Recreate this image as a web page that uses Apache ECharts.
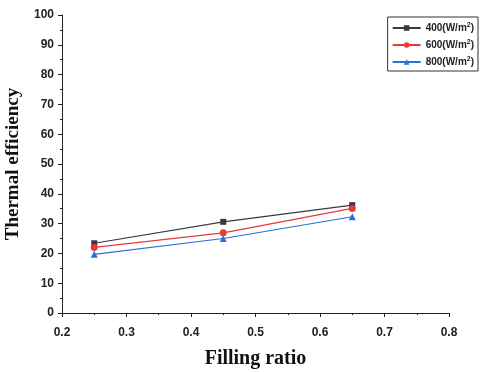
<!DOCTYPE html>
<html><head><meta charset="utf-8">
<script src="https://cdn.jsdelivr.net/npm/echarts@6/dist/echarts.min.js"></script>
<style>html,body{margin:0;padding:0;background:#fff}#c{width:480px;height:372px}</style>
</head><body><div id="c"></div>
<script>
const fillingRatio = [0.25, 0.45, 0.65];
const eff400 = [23.4, 30.6, 36.2];
const eff600 = [22.0, 26.9, 35.1];
const eff800 = [19.7, 25.0, 32.3];
const seriesNames = ['400', '600', '800'];

const chart = echarts.init(document.getElementById('c'));
const mk = (name, data, color, symbol, size) => ({
  name: name, type: 'line', data: fillingRatio.map((x, i) => [x, data[i]]),
  symbol: symbol, symbolSize: size,
  lineStyle: {color: color, width: 1.2}, itemStyle: {color: color}
});
chart.setOption({
  animation: false,
  grid: {left: 62, right: 31, top: 15, bottom: 59, containLabel: false, outerBoundsMode: 'none'},
  legend: {
    right: 2, top: 17, orient: 'vertical',
    borderColor: '#333', borderWidth: 1, padding: [5, 4, 4, 4],
    itemWidth: 28, itemHeight: 7, itemGap: 6,
    textStyle: {fontFamily: 'Liberation Sans', fontWeight: 'bold', fontSize: 10, color: '#222',
      rich: {sup: {fontSize: 7, fontWeight: 'bold', verticalAlign: 'top', padding: [0,0,5,0], fontFamily: 'Liberation Sans'}}},
    formatter: n => n + '(W/m{sup|2})'
  },
  xAxis: {
    type: 'value', min: 0.2, max: 0.8, interval: 0.1,
    name: 'Filling ratio', nameLocation: 'middle', nameGap: 36,
    nameTextStyle: {fontFamily: 'Liberation Serif', fontWeight: 'bold', fontSize: 20, color: '#111'},
    axisLine: {lineStyle: {color: '#222', width: 1}},
    axisTick: {inside: false, length: 4, lineStyle: {color: '#222'}},
    minorTick: {show: true, splitNumber: 2, length: 2, lineStyle: {color: '#222'}},
    splitLine: {show: false},
    axisLabel: {fontFamily: 'Liberation Sans', fontWeight: 'bold', fontSize: 12, color: '#222', margin: 14,
      formatter: v => v.toFixed(1)}
  },
  yAxis: {
    type: 'value', min: 0, max: 100, interval: 10,
    name: 'Thermal efficiency', nameLocation: 'middle', nameGap: 38,
    nameTextStyle: {fontFamily: 'Liberation Serif', fontWeight: 'bold', fontSize: 19, color: '#111'},
    axisLine: {show: true, lineStyle: {color: '#222', width: 1}},
    axisTick: {inside: false, length: 4, lineStyle: {color: '#222'}},
    minorTick: {show: true, splitNumber: 2, length: 2, lineStyle: {color: '#222'}},
    splitLine: {show: false},
    axisLabel: {fontFamily: 'Liberation Sans', fontWeight: 'bold', fontSize: 12, color: '#222', margin: 8}
  },
  series: [
    mk(seriesNames[0], eff400, '#3a3a3a', 'rect', 6),
    mk(seriesNames[1], eff600, '#e83a3a', 'circle', 7),
    mk(seriesNames[2], eff800, '#2a70d8', 'triangle', 7)
  ]
});
</script></body></html>
